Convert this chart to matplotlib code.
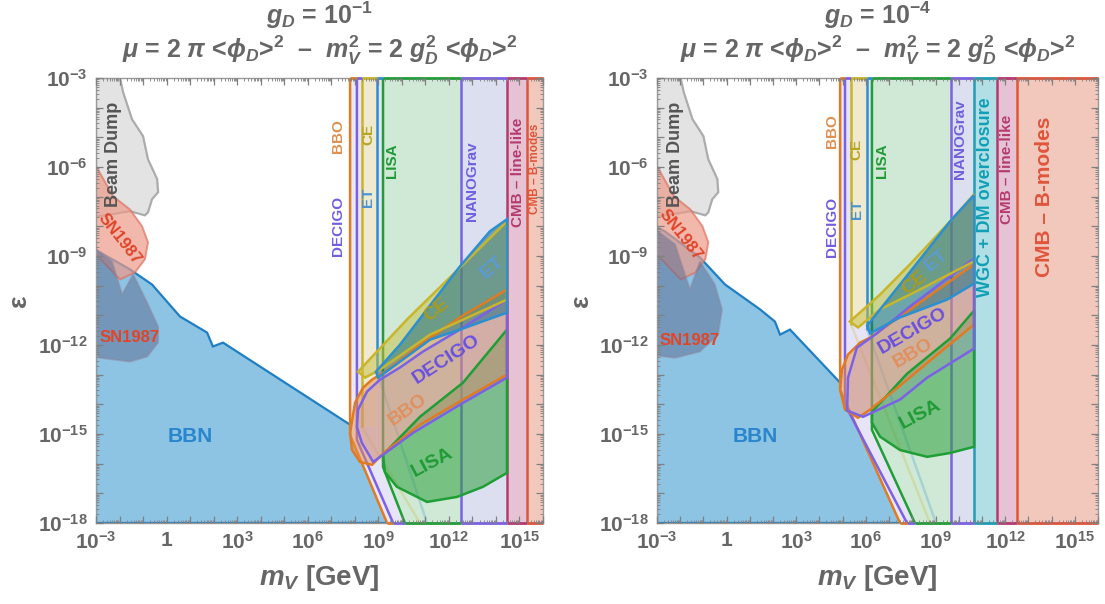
import numpy as np
import matplotlib
matplotlib.use('Agg')
import matplotlib.pyplot as plt
from matplotlib.patches import Polygon
from matplotlib.ticker import LogLocator, FuncFormatter, NullFormatter

plt.rcParams['font.family'] = ['Liberation Sans', 'DejaVu Sans']
plt.rcParams['font.weight'] = 'bold'
plt.rcParams['mathtext.fontset'] = 'custom'
plt.rcParams['mathtext.rm'] = 'Liberation Sans:bold'
plt.rcParams['mathtext.it'] = 'Liberation Sans:italic:bold'
plt.rcParams['mathtext.bf'] = 'Liberation Sans:bold'
plt.rcParams['mathtext.sf'] = 'Liberation Sans:bold'
plt.rcParams['mathtext.fallback'] = 'stixsans'

# ---------------- data: (log10 m_V [GeV], log10 epsilon) ----------------
X_RANGE = (-3, 16)
Y_RANGE = (-18, -3)
G_D_EXP = [-1, -4]

BEAM_DUMP_M = [-3, -1.98, -1.85, -1.47, -1.00, -0.79, -0.40, -0.36, -0.62, -0.79, -0.92, -1.56, -2.83, -3]
BEAM_DUMP_EPS = [-3, -3, -3.47, -4.39, -4.96, -5.74, -6.41, -6.85, -7.09, -7.53, -7.63, -7.49, -7.66, -7.66]
SN_UP_M = [-3, -2.27, -1.56, -1.04, -0.79, -0.92, -1.34, -1.98, -3]
SN_UP_EPS = [-5.97, -6.99, -7.43, -8.0, -8.54, -9.11, -9.55, -9.79, -8.95]

# left panel (g_D = 1e-1)
L_BBN_M = [-3, -2.91, -1.56, -0.62, 0.57, 1.72, 1.97, 2.40, 7.67, 8.88, 10.9, -3]
L_BBN_EPS = [-8.78, -8.84, -9.45, -9.96, -11.04, -11.58, -12.05, -11.92, -14.62, -15.2, -18.0, -18.0]
L_SNLOW_M = [-3, -2.32, -1.89, -1.42, -0.83, -0.36, -0.36, -0.83, -1.56, -2.83, -3]
L_SNLOW_EPS = [-8.78, -9.18, -10.30, -9.62, -10.57, -11.38, -11.92, -12.39, -12.56, -12.43, -12.32]

L_BOUND_NAMES = ['BBO', 'DECIGO', 'CE', 'ET', 'LISA', 'NANOGrav', 'CMBline', 'CMBB']
L_X_TOP = [7.80, 8.09, 8.30, 8.94, 9.20, 12.52, 14.47, 15.32]
L_Y_BREAK = [-15.03, -15.2, -14.76, -12.9, -16.11, -18.0, -18.0, -18.0]
L_X_BOT = [9.37, 9.63, 10.77, 11.07, 10.13, 12.52, 14.47, 15.32]

L_CE_M = [8.14, 10.22, 12.47, 14.47, 14.47, 11.20, 9.07, 8.44]
L_CE_EPS = [-12.90, -11.14, -9.39, -7.83, -10.47, -11.65, -12.83, -13.10]
L_ET_M = [8.90, 9.92, 12.47, 13.74, 14.47, 14.47, 12.47, 11.20, 8.99]
L_ET_EPS = [-12.90, -11.99, -9.35, -8.17, -7.76, -10.91, -11.48, -11.82, -13.10]
L_DECIGO_M = [8.09, 8.14, 8.52, 9.07, 9.92, 10.90, 12.47, 14.47, 14.47, 12.60, 10.48, 8.78, 8.30]
L_DECIGO_EPS = [-14.76, -14.18, -13.57, -13.17, -12.76, -12.22, -11.48, -10.47, -13.10, -13.95, -14.96, -15.94, -15.30]
L_BBO_M = [7.80, 8.01, 8.35, 8.73, 9.28, 10.77, 12.47, 14.47, 14.47, 12.60, 10.77, 9.28, 8.73, 8.22, 7.88]
L_BBO_EPS = [-14.96, -13.95, -13.44, -13.17, -12.90, -11.99, -11.07, -10.13, -13.0, -13.84, -14.69, -15.60, -16.04, -15.94, -15.53]
L_LISA_M = [9.20, 10.77, 12.60, 14.47, 14.47, 13.45, 12.35, 11.07, 9.79, 9.28]
L_LISA_EPS = [-15.70, -14.42, -13.27, -11.48, -16.31, -16.78, -17.12, -17.29, -16.78, -16.28]

# right panel (g_D = 1e-4)
R_BBN_M = [-3, -2.66, -1.15, -0.07, 1.44, 2.08, 2.30, 2.73, 4.89, 6.39, 8.4, -3]
R_BBN_EPS = [-8.03, -8.17, -9.05, -9.96, -10.80, -11.21, -11.65, -11.48, -13.27, -14.5, -18.0, -18.0]
R_SNLOW_M = [-3, -2.22, -1.58, -1.15, -0.51, -0.20, -0.37, -1.15, -2.22, -3]
R_SNLOW_EPS = [-8.14, -8.61, -10.13, -9.18, -9.96, -10.80, -11.65, -12.22, -12.43, -12.36]

R_BOUND_NAMES = ['BBO', 'DECIGO', 'CE', 'ET', 'LISA', 'NANOGrav', 'WGC', 'CMBline', 'CMBB']
R_X_TOP = [4.89, 5.10, 5.36, 6.05, 6.26, 9.67, 10.66, 11.65, 12.51]
R_Y_BREAK = [-13.51, -14.01, -11.31, -11.48, -14.86, -18.0, -18.0, -18.0, -18.0]
R_X_BOT = [7.47, 7.77, 8.76, 9.02, 8.11, 9.67, 10.66, 11.65, 12.51]

R_CE_M = [5.31, 6.61, 7.90, 9.63, 10.66, 10.66, 8.33, 6.61, 5.66]
R_CE_EPS = [-11.21, -10.30, -9.28, -7.83, -6.92, -9.18, -10.13, -10.80, -11.41]
R_ET_M = [6.05, 7.47, 9.63, 10.66, 10.66, 9.50, 7.47, 6.18]
R_ET_EPS = [-11.35, -9.96, -7.83, -6.95, -9.93, -10.47, -11.07, -11.61]
R_DECIGO_M = [5.19, 5.23, 5.61, 6.47, 7.90, 10.66, 10.66, 8.64, 7.47, 5.88]
R_DECIGO_EPS = [-14.21, -13.10, -12.09, -11.61, -10.70, -9.08, -12.12, -13.10, -13.84, -14.42]
R_BBO_M = [4.89, 4.97, 5.23, 5.75, 6.18, 10.66, 10.66, 9.19, 7.47, 6.18, 5.66, 5.10]
R_BBO_EPS = [-13.51, -12.83, -12.32, -11.92, -11.75, -9.28, -11.31, -12.25, -13.37, -14.18, -14.45, -14.18]
R_LISA_M = [6.26, 7.77, 9.63, 10.66, 10.66, 9.63, 8.64, 7.47, 6.61, 6.26]
R_LISA_EPS = [-14.25, -12.97, -11.78, -10.84, -15.43, -15.64, -15.77, -15.54, -15.09, -14.62]

# ---------------- styling ----------------
LINE_COL = {'BBO': '#e07b22', 'DECIGO': '#7b61e6', 'CE': '#c9b52a', 'ET': '#2c8fd1',
            'LISA': '#1f9e36', 'NANOGrav': '#7b61e6', 'WGC': '#1ba0b8',
            'CMBline': '#b5396e', 'CMBB': '#e0553a'}
STRIP_COL = {'BBO': '#ebe8f8', 'DECIGO': '#e6e4f6', 'LISA': '#cfe9d6', 'NANOGrav': '#dbdff0',
             'WGC': '#b2dfe6', 'CMBline': '#e6c3d4', 'CMBB': '#f2c8bd'}
BLOB_STYLE = {'BBO': ('#e8924a', 0.5), 'DECIGO': ('#9b8ad8', 0.2), 'CE': ('#c8c040', 0.5),
              'ET': ('#1c6f86', 0.55), 'LISA': ('#30a040', 0.55)}
GRAY = '#666666'


def P(ms, es):
    return np.column_stack([10.0 ** np.asarray(ms, float), 10.0 ** np.asarray(es, float)])


def line(ax, ms, es, **kw):
    ax.plot(10.0 ** np.asarray(ms, float), 10.0 ** np.asarray(es, float), **kw)


def bpath(xt, yb, xb):
    if yb <= -18:
        return [(xt, -3.0), (xt, -18.0)]
    return [(xt, -3.0), (xt, yb), (xb, -18.0)]


def draw_panel(ax, bbn, snlow, names, xtop, ybreak, xbot, blobs, labels, vlabels, title_exp):
    ax.set_xscale('log')
    ax.set_yscale('log')
    ax.set_xlim(10.0 ** X_RANGE[0], 10.0 ** X_RANGE[1])
    ax.set_ylim(10.0 ** Y_RANGE[0], 10.0 ** Y_RANGE[1])

    ax.add_patch(Polygon(P(*bbn), closed=True, fc='#8dc3e3', ec='#1f7fc4', lw=1.6, zorder=3))
    ax.add_patch(Polygon(P(BEAM_DUMP_M, BEAM_DUMP_EPS), closed=True, fc='#e2e2e2', ec='#a8a8a8',
                         lw=1.6, alpha=0.95, zorder=3.1))
    ax.add_patch(Polygon(P(SN_UP_M, SN_UP_EPS), closed=True, fc='#ec9a88', ec='#e07060',
                         lw=1.4, alpha=0.7, zorder=3.2))
    ax.add_patch(Polygon(P(*snlow), closed=True, fc='#5d6b8f', ec='#8a86a0',
                         lw=1.4, alpha=0.5, zorder=3.3))

    paths = {n: bpath(xtop[i], ybreak[i], xbot[i]) for i, n in enumerate(names)}
    main = [n for n in names if n not in ('CE', 'ET')]
    for i, n in enumerate(main):
        a = paths[n]
        b = paths[main[i + 1]] if i + 1 < len(main) else [(X_RANGE[1], -3.0), (X_RANGE[1], -18.0)]
        poly = a + b[::-1]
        ax.add_patch(Polygon(P([p[0] for p in poly], [p[1] for p in poly]), closed=True,
                             fc=STRIP_COL[n], ec='none', zorder=4, clip_on=False))
        # bottom edge in the strip colour
        line(ax, [a[-1][0], b[-1][0]], [-18.0, -18.0], color=LINE_COL[n], lw=2.0, zorder=4.7,
             clip_on=False, solid_capstyle='butt')
    # top edges
    for i, n in enumerate(names):
        x1 = xtop[i + 1] if i + 1 < len(names) else X_RANGE[1]
        line(ax, [xtop[i], x1], [-3.0, -3.0], color=LINE_COL[n], lw=2.0, zorder=4.7,
             clip_on=False, solid_capstyle='butt')
    # CE beige band
    i_ce, i_et = names.index('CE'), names.index('ET')
    band = [(xtop[i_ce], -3.0), (xtop[i_ce], ybreak[i_ce]), (xtop[i_et], ybreak[i_ce]), (xtop[i_et], -3.0)]
    ax.add_patch(Polygon(P([p[0] for p in band], [p[1] for p in band]), closed=True,
                         fc='#efe9cf', ec='none', zorder=4.1))
    for n in names:
        pth = paths[n]
        if n in ('CE', 'ET'):
            line(ax, [p[0] for p in pth[:2]], [p[1] for p in pth[:2]],
                 color=LINE_COL[n], lw=1.8, zorder=4.5, solid_capstyle='butt')
            line(ax, [p[0] for p in pth[1:]], [p[1] for p in pth[1:]],
                 color=LINE_COL[n], lw=1.8, alpha=0.25, zorder=4.5)
        else:
            line(ax, [p[0] for p in pth], [p[1] for p in pth],
                 color=LINE_COL[n], lw=1.8, zorder=4.6, solid_capstyle='butt')

    for n, (ms, es) in blobs:
        fc, al = BLOB_STYLE[n]
        ax.add_patch(Polygon(P(ms, es), closed=True, fc=fc, alpha=al, ec='none', zorder=5))
        ax.add_patch(Polygon(P(ms, es), closed=True, fc='none', ec=LINE_COL[n], lw=1.8, zorder=5.5))

    for txt, m, e, rot, col, fs in labels:
        ax.text(10.0 ** m, 10.0 ** e, txt, rotation=rot, color=col, fontsize=fs, fontweight='bold',
                ha='center', va='center', rotation_mode='anchor', zorder=7)
    for txt, m, e, col, fs in vlabels:
        ax.text(10.0 ** m, 10.0 ** e, txt, rotation=90, color=col, fontsize=fs, fontweight='bold',
                ha='center', va='center', zorder=7)

    # axes styling
    for s in ax.spines.values():
        s.set_color('#9a9a9a')
        s.set_linewidth(1.0)
        s.set_zorder(4.55)
    for axis in (ax.xaxis, ax.yaxis):
        axis.set_major_locator(LogLocator(base=10, numticks=40))
        axis.set_minor_locator(LogLocator(base=10, subs=np.arange(2, 10), numticks=40))
        axis.set_minor_formatter(NullFormatter())
        axis.set_zorder(8)

    def fmt(v, pos):
        ex = int(round(np.log10(v)))
        if ex % 3 != 0:
            return ''
        if ex == 0:
            return '1'
        return r'$10^{%d}$' % ex
    ax.xaxis.set_major_formatter(FuncFormatter(fmt))
    ax.yaxis.set_major_formatter(FuncFormatter(fmt))
    ax.tick_params(which='both', direction='in', top=True, right=True, color='#808080',
                   labelcolor=GRAY, labelsize=15)
    ax.tick_params(which='major', length=5, width=0.9, pad=6)
    ax.tick_params(which='minor', length=2.5, width=0.6)

    ax.text(0.5, -0.124, r'$m_V$ [GeV]', transform=ax.transAxes, ha='center', va='center',
            fontsize=20, color=GRAY, fontweight='bold')
    ax.text(-0.172, 0.5, 'ε', transform=ax.transAxes, ha='center', va='center', rotation=90,
            fontsize=19, color=GRAY, fontweight='bold')
    ax.text(0.5, 1.142, r'$g_D$ = 10$^{%d}$' % title_exp, transform=ax.transAxes, ha='center',
            va='center', fontsize=18, color=GRAY, fontweight='bold')
    ax.text(0.5, 1.063, r'$\mu$ = 2 $\pi$ <$\phi_D$>$^2$  –  $m_V^2$ = 2 $g_D^2$ <$\phi_D$>$^2$',
            transform=ax.transAxes, ha='center', va='center', fontsize=18, color=GRAY,
            fontweight='bold')


fig = plt.figure(figsize=(11.05, 6.04), dpi=100)
axL = fig.add_axes([96 / 1105, 81 / 604, 447 / 1105, 445 / 604])
axR = fig.add_axes([657 / 1105, 81 / 604, 441 / 1105, 445 / 604])

C_SN = '#e0452a'
C_BBN = '#2a86cc'
C_BD = '#555555'

L_blobs = [('LISA', (L_LISA_M, L_LISA_EPS)), ('BBO', (L_BBO_M, L_BBO_EPS)),
           ('DECIGO', (L_DECIGO_M, L_DECIGO_EPS)), ('CE', (L_CE_M, L_CE_EPS)),
           ('ET', (L_ET_M, L_ET_EPS))]
L_labels = [('SN1987', -1.98, -8.41, -52, C_SN, 12), ('SN1987', -1.56, -11.75, 0, C_SN, 12),
            ('BBN', 0.99, -15.09, 0, C_BBN, 15),
            ('CE', 11.50, -10.80, 40, '#a89a20', 14), ('ET', 13.84, -9.39, 40, '#5b9bd5', 14),
            ('DECIGO', 11.91, -12.49, 33, '#6a50e0', 14), ('BBO', 10.27, -14.18, 35, '#e09060', 14),
            ('LISA', 11.29, -15.97, 28, '#1f9a35', 14)]
L_vlabels = [('Beam Dump', -2.27, -5.57, C_BD, 13), ('BBO', 7.28, -4.96, '#e09050', 11),
             ('DECIGO', 7.28, -8.0, '#7060e0', 11), ('CE', 8.56, -4.89, '#b8a526', 11),
             ('ET', 8.56, -7.02, '#4a93cf', 11), ('LISA', 9.58, -5.80, '#1f9a35', 11),
             ('NANOGrav', 12.99, -6.48, '#7060e0', 11), ('CMB – line-like', 14.94, -6.18, '#b5396e', 11),
             ('CMB – B-modes', 15.67, -6.07, '#e0553a', 8.5)]

R_blobs = [('LISA', (R_LISA_M, R_LISA_EPS)), ('BBO', (R_BBO_M, R_BBO_EPS)),
           ('DECIGO', (R_DECIGO_M, R_DECIGO_EPS)), ('CE', (R_CE_M, R_CE_EPS)),
           ('ET', (R_ET_M, R_ET_EPS))]
R_labels = [('SN1987', -1.98, -8.3, -52, C_SN, 12), ('SN1987', -1.58, -11.85, 0, C_SN, 12),
            ('BBN', 1.23, -15.09, 0, C_BBN, 15),
            ('CE', 8.11, -9.89, 40, '#a89a20', 14), ('ET', 9.06, -9.15, 40, '#5b9bd5', 14),
            ('DECIGO', 8.03, -11.51, 30, '#6a50e0', 14), ('BBO', 8.03, -12.29, 30, '#e09060', 14),
            ('LISA', 8.33, -14.35, 28, '#1f9a35', 14)]
R_vlabels = [('Beam Dump', -2.22, -5.57, C_BD, 13), ('BBO', 4.54, -4.79, '#e09050', 11),
             ('DECIGO', 4.54, -8.03, '#7060e0', 11), ('CE', 5.61, -5.40, '#b8a526', 11),
             ('ET', 5.61, -7.43, '#4a93cf', 11), ('LISA', 6.70, -5.80, '#1f9a35', 11),
             ('NANOGrav', 10.05, -5.06, '#7060e0', 11),
             ('WGC + DM overclosure', 11.14, -7.02, '#109fb5', 13),
             ('CMB – line-like', 12.08, -6.07, '#b5396e', 11),
             ('CMB – B-modes', 13.71, -6.99, '#e0553a', 15)]

draw_panel(axL, (L_BBN_M, L_BBN_EPS), (L_SNLOW_M, L_SNLOW_EPS), L_BOUND_NAMES, L_X_TOP, L_Y_BREAK,
           L_X_BOT, L_blobs, L_labels, L_vlabels, G_D_EXP[0])
draw_panel(axR, (R_BBN_M, R_BBN_EPS), (R_SNLOW_M, R_SNLOW_EPS), R_BOUND_NAMES, R_X_TOP, R_Y_BREAK,
           R_X_BOT, R_blobs, R_labels, R_vlabels, G_D_EXP[1])

fig.savefig('out.png', dpi=100)
